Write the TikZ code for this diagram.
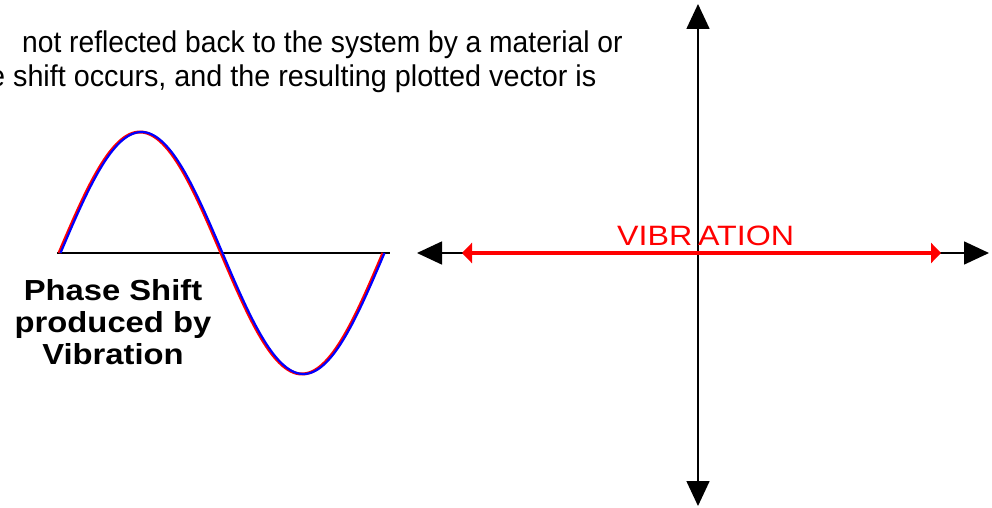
\documentclass[tikz,border=0pt]{standalone}
\usepackage{fontspec}
\setmainfont{Liberation Sans}
\usetikzlibrary{arrows.meta}
\begin{document}
\begin{tikzpicture}[x=1pt,y=-1pt,
  bodytext/.style={inner sep=0pt,anchor=base west,font=\fontsize{30}{34}\selectfont},
  boldlabel/.style={inner sep=0pt,align=center,font=\fontsize{29}{32}\selectfont\bfseries},
  redlabel/.style={inner sep=0pt,anchor=base west,text=red,font=\fontsize{28}{30}\selectfont},
  axisline/.style={draw=black,line width=1.6pt},
  bigtip/.style={-{Triangle[width=23pt,length=25pt]}},
  redarrow/.style={draw=red,line width=4.5pt,{Triangle[width=20pt,length=10pt]}-{Triangle[width=20pt,length=10pt]}}
]
\useasboundingbox[fill=white] (0,0) rectangle (992,508);
% text lines
\node[bodytext] (t1) at (22,53) {\scalebox{0.94}[1]{not reflected back to the system by a material or}};
\node[bodytext] (t2) at (-11,87) {\scalebox{0.958}[1]{e shift occurs, and the resulting plotted vector is}};
% sine diagram
\coordinate (bl) at (57,253);
\coordinate (br) at (390,253);
\draw[black,line width=1.3pt] (bl) -- (br);
\draw[red,line width=3pt,domain=0:360,samples=120,smooth] plot ({59+0.9*\x},{253-121*sin(\x)});
\draw[blue,line width=2.2pt,domain=0:360,samples=120,smooth] plot ({60.5+0.9*\x},{253-121*sin(\x)});
\node[boldlabel] (ps) at (113,322) {\scalebox{1.13}[1]{Phase Shift}\\\scalebox{1.13}[1]{produced by}\\\scalebox{1.13}[1]{Vibration}};
% axes
\coordinate (o) at (698,253);
\coordinate (top) at (698,4);
\coordinate (bot) at (698,506);
\coordinate (lft) at (417,253);
\coordinate (rgt) at (989,253);
\draw[axisline,bigtip] (o) -- (top);
\draw[axisline,bigtip] (o) -- (bot);
\draw[axisline,bigtip] (o) -- (lft);
\draw[axisline,bigtip] (o) -- (rgt);
\coordinate (ra) at (462,253);
\coordinate (rb) at (941,253);
\draw[redarrow] (ra) -- (rb);
\node[redlabel] (vib) at (617,245) {\scalebox{1.15}[1]{VIBR\hspace{5pt}ATION}};
\end{tikzpicture}
\end{document}
